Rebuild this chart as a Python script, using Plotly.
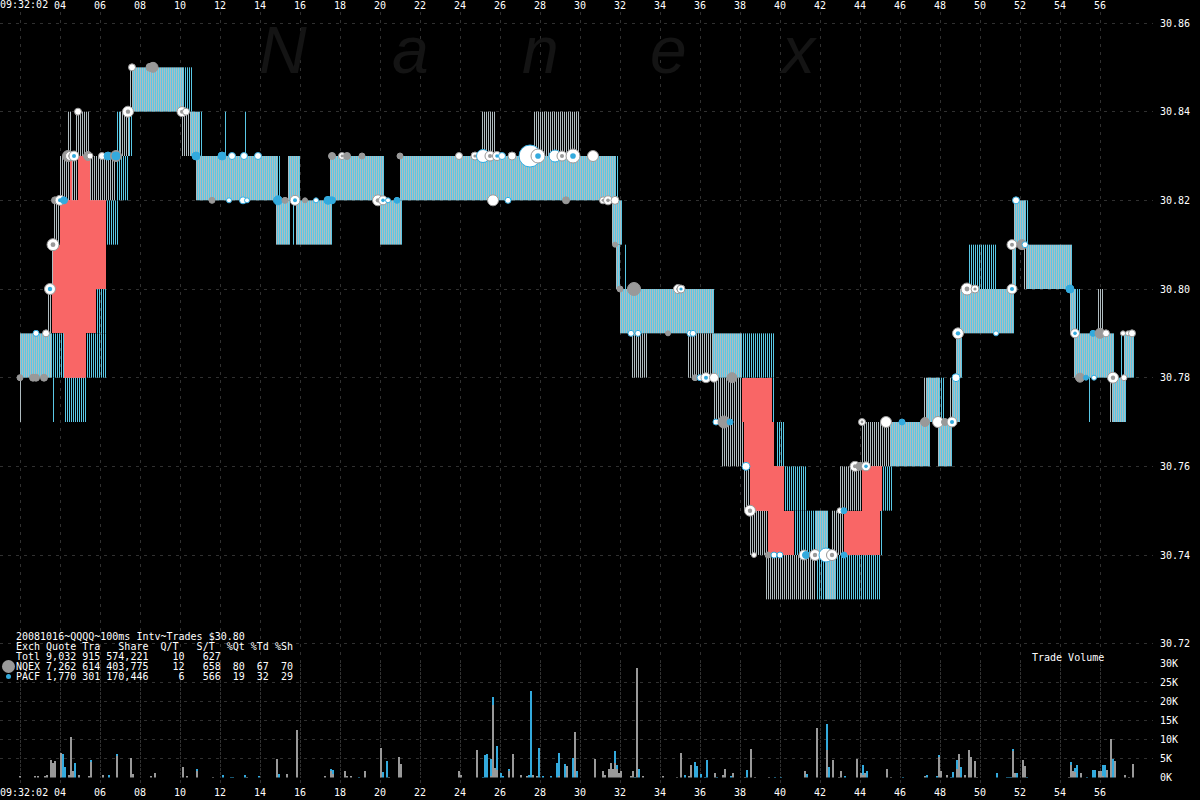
import plotly.graph_objects as go

# Quote bands: (start second, end second, low price, high price)
quotes_nqex = [
 (2.0,2.1,30.77,30.78),(3.45,3.6,30.79,30.80),(3.6,3.65,30.80,30.81),(3.7,4.0,30.81,30.82),
 (4.0,4.5,30.82,30.83),(4.6,4.9,30.82,30.83),(5.5,6.75,30.82,30.83),(4.4,4.55,30.83,30.84),
 (4.75,5.5,30.83,30.84),(7.0,7.5,30.83,30.84),(10.1,10.5,30.83,30.84),(7.5,7.6,30.84,30.85),
 (25.1,25.75,30.83,30.84),(27.7,29.95,30.83,30.84),(32.6,33.4,30.78,30.79),(35.5,35.6,30.78,30.79),
 (35.4,36.6,30.78,30.79),(36.7,38.1,30.77,30.78),(37.1,38.15,30.76,30.77),(38.2,38.5,30.75,30.76),
 (43.0,44.1,30.75,30.76),(38.5,39.4,30.74,30.75),(42.6,43.2,30.74,30.75),(39.3,41.8,30.73,30.74),
 (44.1,45.5,30.76,30.77),(47.2,47.3,30.77,30.78),(48.5,48.6,30.77,30.78),(52.2,52.3,30.80,30.81),
 (55.9,56.15,30.79,30.80),(56.5,56.6,30.77,30.78),
]
quotes_pacf = [
 (3.55,3.6,30.77,30.78),(4.15,5.3,30.77,30.78),(3.6,4.15,30.78,30.79),(5.3,6.3,30.78,30.79),
 (5.8,6.3,30.79,30.80),(6.3,6.9,30.81,30.82),(6.75,7.4,30.82,30.83),(6.8,7.0,30.83,30.84),
 (7.35,7.65,30.83,30.84),(11.0,11.1,30.83,30.84),(12.25,12.3,30.83,30.84),(13.15,13.2,30.83,30.84),
 (10.2,10.6,30.84,30.85),(14.9,15.0,30.82,30.83),(15.9,16.0,30.82,30.83),(15.55,15.6,30.81,30.82),
 (31.8,31.9,30.82,30.83),(32.15,32.25,30.80,30.81),(38.1,39.7,30.78,30.79),(39.65,39.7,30.77,30.78),
 (39.75,40.2,30.76,30.77),(40.2,41.3,30.75,30.76),(45.1,45.6,30.75,30.76),(40.7,41.75,30.74,30.75),
 (45.0,45.1,30.74,30.75),(41.8,42.3,30.73,30.74),(42.8,45.0,30.73,30.74),(48.0,48.2,30.77,30.78),
 (50.75,50.8,30.79,30.80),(49.45,50.8,30.80,30.81),(52.3,52.4,30.81,30.82),(54.85,54.95,30.79,30.80),
 (57.05,57.1,30.78,30.79),(55.35,55.4,30.77,30.78),
]
quotes_both = [
 (2.0,3.6,30.78,30.79),(7.6,10.2,30.84,30.85),(10.5,11.0,30.83,30.84),(10.8,14.9,30.82,30.83),
 (15.4,16.0,30.82,30.83),(17.5,20.2,30.82,30.83),(21.0,31.8,30.82,30.83),(14.8,15.5,30.81,30.82),
 (15.8,17.6,30.81,30.82),(20.0,21.1,30.81,30.82),(31.6,32.1,30.81,30.82),(31.8,32.0,30.80,30.81),
 (32.0,36.7,30.79,30.80),(36.6,38.1,30.78,30.79),(41.75,42.35,30.74,30.75),(42.3,42.8,30.73,30.74),
 (45.5,47.5,30.76,30.77),(47.3,48.0,30.77,30.78),(47.9,48.65,30.76,30.77),(48.6,49.0,30.77,30.78),
 (48.8,49.1,30.78,30.79),(49.0,51.7,30.79,30.80),(51.6,51.8,30.80,30.81),(52.3,54.6,30.80,30.81),
 (51.7,52.3,30.81,30.82),(54.5,54.85,30.79,30.80),(54.7,56.7,30.78,30.79),(57.15,57.7,30.78,30.79),
 (56.6,57.3,30.77,30.78),
]
quotes_crossed = [
 (4.15,5.3,30.78,30.79),(3.6,5.8,30.79,30.80),(3.65,6.3,30.80,30.81),(4.0,6.3,30.81,30.82),
 (4.5,4.6,30.82,30.83),(4.9,5.5,30.82,30.83),(38.1,39.6,30.77,30.78),(38.2,39.7,30.76,30.77),
 (38.5,40.2,30.75,30.76),(44.1,45.1,30.75,30.76),(39.4,40.7,30.74,30.75),(43.2,45.0,30.74,30.75),
]

# Trades: (second, price, marker diameter, kind)
trades = [
 (7.6,30.85,7,'w'),(8.5,30.85,8,'g'),(8.65,30.85,10,'g'),(4.9,30.84,7,'w'),(7.4,30.84,11,'r'),
 (10.1,30.84,10,'r'),(10.3,30.84,7,'w'),(4.4,30.83,11,'g'),(4.5,30.83,9,'r'),(4.7,30.83,10,'rb'),
 (5.4,30.83,9,'g'),(5.5,30.83,6,'w'),(6.1,30.83,7,'w'),(6.4,30.83,8,'b'),(6.8,30.83,11,'g'),
 (6.8,30.83,8,'b'),(10.8,30.83,8,'b'),(12.1,30.83,8,'b'),(12.6,30.83,7,'wb'),(13.2,30.83,7,'wb'),
 (13.9,30.83,7,'wb'),(17.6,30.83,7,'g'),(18.1,30.83,7,'r'),(18.35,30.83,7,'g'),(19.1,30.83,6,'g'),
 (21.0,30.83,6,'g'),(23.95,30.83,7,'w'),(24.75,30.83,8,'r'),(25.15,30.83,13,'wb'),(25.5,30.83,10,'r'),
 (25.85,30.83,9,'rb'),(26.1,30.83,7,'wb'),(26.6,30.83,8,'w'),(27.5,30.83,22,'wb'),(27.9,30.83,14,'rb'),
 (28.75,30.83,12,'wb'),(29.1,30.83,10,'r'),(29.65,30.83,14,'rb'),(30.65,30.83,11,'w'),
 (3.75,30.82,7,'g'),(4.0,30.82,10,'rb'),(4.2,30.82,7,'b'),(11.6,30.82,6,'g'),(12.45,30.82,5,'wb'),
 (13.15,30.82,7,'wb'),(13.35,30.82,5,'wb'),(14.9,30.82,9,'b'),(15.25,30.82,6,'g'),(15.75,30.82,10,'rb'),
 (16.25,30.82,5,'g'),(16.8,30.82,5,'wb'),(17.4,30.82,8,'b'),(17.6,30.82,7,'b'),(19.9,30.82,11,'r'),
 (20.15,30.82,9,'rb'),(20.4,30.82,5,'wb'),(20.85,30.82,6,'b'),(25.65,30.82,11,'w'),(26.4,30.82,6,'wb'),
 (29.3,30.82,7,'g'),(31.15,30.82,7,'r'),(31.4,30.82,9,'r'),(31.75,30.82,8,'w'),(3.65,30.81,12,'r'),
 (31.75,30.81,5,'g'),(3.5,30.80,11,'rb'),(32.0,30.80,6,'g'),(32.7,30.80,13,'g'),(34.9,30.80,9,'r'),
 (35.05,30.80,8,'rb'),(2.8,30.79,6,'wb'),(3.3,30.79,7,'w'),(32.55,30.79,6,'wb'),(32.9,30.79,6,'wb'),
 (34.4,30.79,5,'g'),(35.5,30.79,6,'wb'),(35.65,30.79,6,'wb'),(2.0,30.78,6,'g'),(2.65,30.78,7,'g'),
 (2.8,30.78,7,'g'),(3.2,30.78,7,'g'),(35.75,30.78,6,'g'),(36.0,30.78,6,'wb'),(36.3,30.78,10,'rb'),
 (36.7,30.78,9,'w'),(37.6,30.78,10,'g'),(36.8,30.77,6,'wb'),(37.2,30.77,12,'g'),(37.5,30.77,6,'b'),
 (38.3,30.76,8,'wb'),(38.5,30.75,11,'r'),(38.7,30.74,5,'w'),(39.4,30.74,6,'g'),(39.7,30.74,6,'wb'),
 (40.0,30.74,6,'wb'),(41.2,30.74,10,'w'),(41.3,30.74,7,'b'),(41.75,30.74,11,'r'),(42.3,30.74,14,'wb'),
 (42.6,30.74,11,'r'),(43.2,30.74,6,'b'),(43.0,30.75,6,'w'),(43.2,30.75,6,'b'),(43.75,30.76,10,'r'),
 (44.0,30.76,8,'g'),(44.3,30.76,9,'rb'),(44.1,30.77,7,'r'),(45.3,30.77,11,'w'),(46.1,30.77,6,'b'),
 (47.25,30.77,9,'g'),(47.9,30.77,11,'w'),(48.25,30.77,7,'g'),(48.6,30.77,10,'rb'),(51.8,30.82,7,'wb'),
 (51.6,30.81,10,'r'),(52.1,30.81,10,'g'),(52.25,30.81,6,'wb'),(49.35,30.80,12,'r'),(49.75,30.80,8,'r'),
 (51.6,30.80,10,'rb'),(54.5,30.80,8,'b'),(48.9,30.79,11,'rb'),(50.8,30.79,5,'wb'),(54.75,30.79,9,'rb'),
 (55.65,30.79,6,'b'),(56.0,30.79,10,'g'),(56.3,30.79,7,'w'),(57.15,30.79,5,'w'),(57.4,30.79,5,'w'),
 (57.6,30.79,7,'w'),(48.8,30.78,8,'wb'),(55.0,30.78,9,'g'),(55.3,30.78,5,'b'),(55.7,30.78,5,'wb'),
 (56.65,30.78,11,'r'),(57.2,30.78,6,'w'),
]

# Trade volume per 100 ms interval: (second, thousand shares)
volume_nqex = [
 (2.0,.3),(2.75,.35),(2.9,.3),(3.25,.6),(3.35,.9),(3.55,4.8),(3.65,3.95),(3.75,4.4),(4.05,6.6),(4.45,.7),
 (4.55,10.7),(4.65,1.75),(4.95,.7),(5.45,.45),(5.55,4.4),(6.15,.9),(6.85,5.7),(7.55,5.25),(7.65,1.05),(8.55,.45),
 (8.75,1.4),(10.15,2.8),(10.35,.45),(10.85,1.75),(11.65,.2),(13.35,.1),(14.85,5.1),(15.35,1.15),(15.85,12.7),
 (17.25,.45),(17.55,1.75),(17.65,1.05),(18.25,1.9),(18.35,.35),(18.55,.45),(19.25,1.9),(20.05,7.9),(20.45,.2),
 (20.95,5.5),(21.05,3.8),(23.95,1.9),(24.05,.9),(24.85,7.45),(25.55,.5),(25.65,19.3),(25.75,2.6),(25.85,2.2),
 (26.45,1.75),(26.65,6.4),(27.05,.9),(27.35,.3),(27.65,.9),(27.85,.3),(28.95,.45),(29.35,3.25),(29.75,12.1),
 (30.75,5),(31.15,1.75),(31.25,.9),(31.45,2.35),(31.55,3.95),(31.65,2.35),(31.75,3.95),(31.85,2.35),(31.95,1.3),
 (32.05,1.9),(32.55,.3),(32.65,1.75),(32.85,28.95),(33.15,.6),(34.15,.35),(34.85,.2),(35.05,6.6),(35.45,.45),(35.55,3.5),
 (36.75,1.4),(37.15,.9),(37.25,2.45),(37.65,1.4),(38.25,.2),(38.55,7.7),(38.75,.2),(39.45,.2),(41.25,1.9),(41.35,.3),
 (41.85,13.15),(42.35,7.45),(42.65,4.8),(42.95,.2),(43.05,1.75),(43.85,5.1),(44.05,1.2),(44.15,.9),(44.25,1.2),
 (45.35,2.45),(45.55,.2),(47.25,.45),(47.95,5.45),(48.05,1.9),(48.35,.9),(48.85,2.45),(48.95,6.3),(49.05,.2),(49.25,.9),
 (49.45,7.45),(49.55,5.5),(49.75,4.55),(49.85,.2),(51.65,7),(51.75,1.4),(52.15,4.8),(52.25,3.25),(54.45,.2),(54.55,3.5),
 (54.65,1.9),(54.75,1.6),(55.05,1.4),(55.95,1.75),(56.05,1.85),(56.15,.45),(56.35,2.2),(56.55,10.25),(56.75,4.55),
 (57.25,.9),(57.45,.2),(57.65,3.7),
]
volume_pacf = [
 (4.15,6.4),(4.25,2.9),(4.75,4),(5.55,.45),(6.45,.9),(6.85,.7),(10.85,.6),(12.15,.9),(12.55,.2),(12.65,.25),(13.25,.9),
 (13.95,.45),(14.95,1.15),(17.55,.7),(17.65,1.15),(18.95,.2),(20.15,1.65),(20.35,4.55),(25.15,.2),(25.25,6.15),(25.35,6.3),
 (25.55,4.4),(25.65,2.1),(25.85,6.3),(26.05,1.3),(26.15,.45),(26.45,.6),(27.45,.7),(27.55,23),(27.95,7.9),(28.15,.45),
 (28.55,.45),(28.85,4),(28.95,6),(29.25,3.8),(29.65,5.25),(29.85,1.75),(31.75,3.05),(31.85,1.15),(32.75,.25),(32.95,2.45),
 (35.25,.9),(35.75,4.3),(35.85,3.25),(36.05,1.05),(36.25,.2),(36.35,4.8),(36.85,.2),(37.55,.35),(38.35,2),(39.75,.2),
 (40.05,.2),(41.35,.8),(42.35,6.85),(42.45,2.9),(43.25,.45),(44.15,2.45),(44.35,1.9),(46.15,.2),(47.35,.85),(47.85,.35),
 (47.95,.7),(48.55,.2),(48.65,1.65),(48.85,2.2),(49.05,2.6),(50.85,1.4),(51.35,.2),(51.45,.2),(51.55,.2),(51.65,.7),
 (51.85,1.3),(52.35,.2),(54.55,.7),(54.75,1.05),(54.85,3.5),(55.35,.2),(55.65,2.2),(55.75,2.1),(56.15,3.05),(56.25,3.3),(56.65,5.1),
]

price_ticks = [30.86,30.84,30.82,30.80,30.78,30.76,30.74,30.72]
vol_ticks = [0,5,10,15,20,25,30]
vol_labels = ['0K','5K','10K','15K','20K','25K','30K']
time_ticks = list(range(2,58,2))
time_labels = [''] + ['%02d' % s for s in range(4,58,2)]

title_lines = [
 '20081016~QQQQ~100ms Intv~Trades $30.80',
 'Exch Quote Tra   Share  Q/T   S/T  %Qt %Td %Sh',
 'Totl 9,032 915 574,221    10   627',
 'NQEX 7,262 614 403,775    12   658  80  67  70',
 'PACF 1,770 301 170,446     6   566  19  32  29',
]
watermark = ['N','a','n','e','x']

GRAY, BLUE, RED, DOT_GRAY, DOT_BLUE = '#b0bcc0', '#5ac8e6', '#f96666', '#999999', '#33aadd'
MONO = 'DejaVu Sans Mono'

def stripes(bands, offset):
    xs, ys = [], []
    for t0, t1, lo, hi in bands:
        n = round(t0*10)
        while n < round(t1*10) or n == round(t0*10):
            x = n/10 + offset
            xs += [x, x, None]
            ys += [lo, hi, None]
            n += 1
    return xs, ys

fig = go.Figure()
fig.add_trace(go.Bar(x=[(a+b)/2 for a,b,_,_ in quotes_crossed], width=[b-a for a,b,_,_ in quotes_crossed],
                     y=[h-l for _,_,l,h in quotes_crossed], base=[l for _,_,l,_ in quotes_crossed],
                     marker=dict(color=RED, line_width=0), yaxis='y', xaxis='x'))
gx, gy = stripes(quotes_nqex + quotes_both, 0.025)
bx, by = stripes(quotes_pacf + quotes_both, 0.075)
fig.add_trace(go.Scatter(x=gx, y=gy, mode='lines', line=dict(color=GRAY, width=1), connectgaps=False))
fig.add_trace(go.Scatter(x=bx, y=by, mode='lines', line=dict(color=BLUE, width=1), connectgaps=False))

styles = {'g':(DOT_GRAY,DOT_GRAY,None),'b':(DOT_BLUE,DOT_BLUE,None),'w':('#ffffff',DOT_GRAY,None),
          'wb':('#ffffff',DOT_BLUE,None),'r':('#ffffff',DOT_GRAY,DOT_GRAY),'rb':('#ffffff',DOT_GRAY,DOT_BLUE)}
for t, p, d, k in trades:
    fill, edge, inner = styles[k]
    fig.add_trace(go.Scatter(x=[t], y=[p], mode='markers',
                             marker=dict(size=d, color=fill, line=dict(color=edge, width=1))))
    if inner:
        fig.add_trace(go.Scatter(x=[t], y=[p], mode='markers', marker=dict(size=d*0.4, color=inner, line_width=0)))

nq = dict(volume_nqex)
fig.add_trace(go.Bar(x=[t for t,_ in volume_nqex], y=[v for _,v in volume_nqex], width=0.1,
                     marker=dict(color=DOT_GRAY, line_width=0), yaxis='y2'))
fig.add_trace(go.Bar(x=[t for t,_ in volume_pacf], y=[v for _,v in volume_pacf], base=[nq.get(t,0) for t,_ in volume_pacf],
                     width=0.1, marker=dict(color=DOT_BLUE, line_width=0), yaxis='y2'))

grid = dict(showgrid=True, gridcolor='#303030', griddash='3px,5px', gridwidth=1, zeroline=False, showline=False, automargin=False)
font = dict(family=MONO, size=10, color='#ffffff')
W, H = 1200.0, 800.0
PX = 4433.5
P0 = 23.0
top_px, bot_px, right_px = 12.0, 785.0, 1153.0
fig.update_layout(
    width=1200, height=800, margin=dict(l=0,r=0,t=0,b=0,pad=0,autoexpand=False), paper_bgcolor='#000000', plot_bgcolor='rgba(0,0,0,0)',
    showlegend=False, barmode='overlay', bargap=0,
    xaxis=dict(range=[1, 1+right_px/20], domain=[0, right_px/W], tickvals=time_ticks, ticktext=time_labels,
               tickfont=font, side='bottom', anchor='y', tickangle=0, ticks='', **grid),
    xaxis2=dict(range=[1, 1+right_px/20], domain=[0, right_px/W], tickvals=time_ticks, ticktext=time_labels, automargin=False,
                tickfont=font, side='top', overlaying='x', anchor='y', showgrid=False, zeroline=False, ticks='', tickangle=0),
    yaxis=dict(range=[30.86-(bot_px-P0)/PX, 30.86+(P0-top_px)/PX], domain=[1-bot_px/H, 1-top_px/H],
               tickvals=price_ticks, ticktext=['%.2f' % p for p in price_ticks], tickfont=font, side='right', anchor='x',
               ticks='outside', ticklen=4, tickcolor='rgba(0,0,0,0)', **grid),
    yaxis2=dict(range=[0,30], domain=[1-777.5/H, 1-663.5/H], tickvals=vol_ticks, ticktext=vol_labels, tickfont=font,
                side='right', anchor='x', ticks='outside', ticklen=4, tickcolor='rgba(0,0,0,0)', **grid),
)
# keep the top axis visible
fig.add_trace(go.Scatter(x=[None], y=[None], xaxis='x2', yaxis='y'))

def label(text, x, y, anchor='left', f=font):
    fig.add_annotation(text=text, xref='paper', yref='paper', x=x/W, y=1-y/H, xanchor=anchor, yanchor='middle',
                       showarrow=False, font=f, align='left', borderpad=0, borderwidth=0)
for s, y in zip(title_lines, [636.5,646.5,656.5,666.5,676.5]):
    label(s.replace(' ', '\u00a0'), 16, y)
label('Trade\u00a0Volume', 1032, 657)
label('09:32:02', 0, 5)
label('09:32:02', 0, 792)
wm = dict(family='Liberation Sans', size=66, color='#141414', style='italic')
for s, x in zip(watermark, [283,410,540,668,798]):
    label(s, x, 50, 'center', wm)

fig.add_shape(type='circle', xref='paper', yref='paper', x0=2/W, x1=15/W, y0=1-673/H, y1=1-660/H,
              fillcolor=DOT_GRAY, line_width=0)
fig.add_shape(type='circle', xref='paper', yref='paper', x0=6/W, x1=11/W, y0=1-679/H, y1=1-674/H,
              fillcolor=DOT_BLUE, line_width=0)

fig.write_html('out.html', post_script="document.body.style.margin='0';document.body.style.overflow='hidden';document.documentElement.style.background='#000';",
               config={'displayModeBar': False})
